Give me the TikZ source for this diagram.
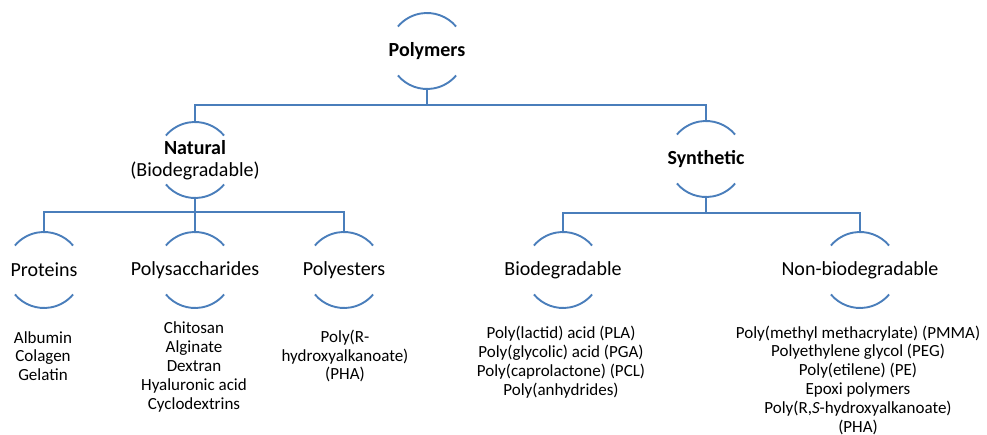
\documentclass[tikz,border=0pt]{standalone}
\usepackage{fontspec}
\setmainfont{Carlito}
\usepackage{tikz}
\definecolor{linkblue}{RGB}{74,126,187}
\tikzset{
  bubble/.style={rectangle, minimum height=76pt, inner sep=0pt, align=center, font=\fontsize{20}{22}\selectfont},
  link/.style={draw=linkblue, line width=1.9pt},
  items/.style={align=center, font=\fontsize{17}{18.8}\selectfont}
}
\begin{document}
\begin{tikzpicture}[x=1pt, y=1pt]
    \useasboundingbox (0,0) rectangle (987,-435);
    % levels
    \node(poly)[bubble] at (427,-51) {\textbf{Polymers}};
    \node(nat)[bubble] at (195,-160) {\textbf{Natural}\\(Biodegradable)};
    \node(syn)[bubble] at (706,-159) {\textbf{Synthetic}};
    \node(prot)[bubble] at (44,-270) {Proteins};
    \node(sacc)[bubble] at (195,-270) {Polysaccharides};
    \node(pest)[bubble] at (344,-270) {Polyesters};
    \node(bio)[bubble] at (563,-270) {Biodegradable};
    \node(nonbio)[bubble] at (860,-270) {Non-biodegradable};
    % lists
    \node(protlist)[items] at (43,-356) {Albumin\\Colagen\\Gelatin};
    \node(sacclist)[items] at (194,-367) {Chitosan\\Alginate\\Dextran\\Hyaluronic acid\\Cyclodextrins};
    \node(pestlist)[items] at (345,-356) {Poly(R-\\hydroxyalkanoate)\\(PHA)};
    \node(biolist)[items] at (561,-362) {Poly(lactid) acid (PLA)\\Poly(glycolic) acid (PGA)\\Poly(caprolactone) (PCL)\\Poly(anhydrides)};
    \node(nonbiolist)[items] at (858,-380) {Poly(methyl methacrylate) (PMMA)\\Polyethylene glycol (PEG)\\Poly(etilene) (PE)\\Epoxi polymers\\Poly(R,\textit{S}-hydroxyalkanoate)\\(PHA)};
    % arcs
    \foreach \n in {poly, nat, syn, prot, sacc, pest, bio, nonbio} {
        \draw[link] ([shift={(40:38)}]\n.center) arc (40:140:38);
        \draw[link] ([shift={(220:38)}]\n.center) arc (220:320:38);
    }
    % connectors
    \draw[link] (poly.south) -- ++(0,-16) -| (nat.north);
    \draw[link] (poly.south) -- ++(0,-16) -| (syn.north);
    \draw[link] (nat.south) -- ++(0,-14) -| (prot.north);
    \draw[link] (nat.south) -- (sacc.north);
    \draw[link] (nat.south) -- ++(0,-14) -| (pest.north);
    \draw[link] (syn.south) -- ++(0,-16) -| (bio.north);
    \draw[link] (syn.south) -- ++(0,-16) -| (nonbio.north);
\end{tikzpicture}
\end{document}
